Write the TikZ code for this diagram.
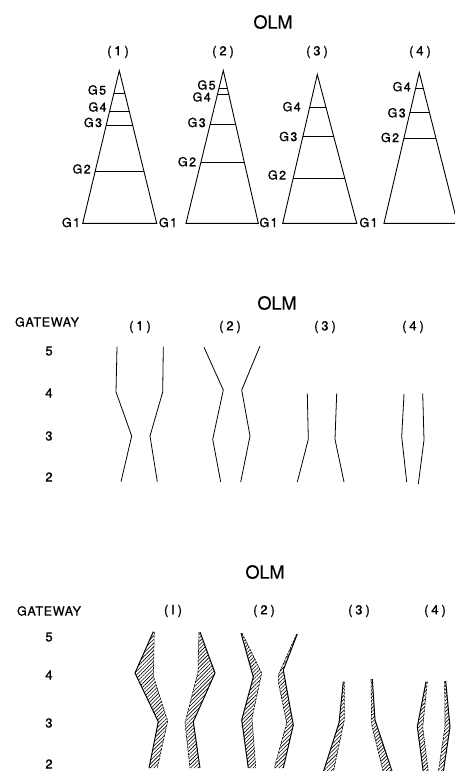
\documentclass[tikz,border=0pt]{standalone}
\usepackage{fontspec}
\setmainfont{TeX Gyre Heros}[FakeBold=0.8]
\newfontfamily\titlefont{TeX Gyre Heros}[FakeBold=0.4]
\newfontfamily\spaced{TeX Gyre Heros}[LetterSpace=22,FakeBold=0.9]
\newfontfamily\gspaced{TeX Gyre Heros}[LetterSpace=12,FakeBold=0.9]
\newfontfamily\wspaced{TeX Gyre Heros}[LetterSpace=6,FakeBold=0.9]
\usetikzlibrary{calc,patterns.meta}

% horizontal gateway levels inside a triangle: #1 prefix, #2 apex y, #3 list of level y
\newcommand\gatelevels[3]{%
  \foreach \h in {#3}{%
    \pgfmathsetmacro\lvl{(\h-#2)/(223.3-#2)}%
    \draw ($(#1a)!\lvl!(#1l)$) -- ($(#1a)!\lvl!(#1r)$);
  }}

\begin{document}
\begin{tikzpicture}[x=1pt,y=-1pt,line width=0.9pt,line join=miter,
  title/.style={font=\titlefont\fontsize{18}{18}\selectfont,inner sep=0},
  colhead/.style={font=\spaced\fontsize{13}{13}\selectfont,inner sep=0},
  glabel/.style={font=\gspaced\fontsize{12.5}{12.5}\selectfont,inner sep=0},
  gwlabel/.style={font=\wspaced\fontsize{12.5}{12.5}\selectfont,inner sep=0},
  gnum/.style={font=\fontsize{13}{13}\selectfont,inner sep=0},
  wall/.style={pattern={Lines[angle=45,distance=2.6pt,line width=0.6pt]}},
  solidedge/.style={line width=1pt},
  brokenedge/.style={line width=0.6pt,dash pattern=on 2.5pt off 1pt}]
\useasboundingbox (0,0) rectangle (455,771);
\clip (0,0) rectangle (455,771);

% ---------- gateway triangles ----------
\node[title] (olmA) at (273,22) {OLM};
\node[colhead] (hA1) at (118,52) {(1)};
\node[colhead] (hA2) at (223,52) {(2)};
\node[colhead] (hA3) at (317,52) {(3)};
\node[colhead] (hA4) at (420,52) {(4)};

\coordinate (t1a) at (119.3,70.7);
\coordinate (t1l) at (82.7,223.3);
\coordinate (t1r) at (156.7,223.3);
\coordinate (t2a) at (223.3,70.5);
\coordinate (t2l) at (186,223.3);
\coordinate (t2r) at (258.3,223.3);
\coordinate (t3a) at (317.3,74.5);
\coordinate (t3l) at (282.7,223.3);
\coordinate (t3r) at (356.7,223.3);
\coordinate (t4a) at (419.3,72.5);
\coordinate (t4l) at (384,223.3);
\coordinate (t4r) at (457.5,223.3);

\foreach \k in {1,2,3,4}{\draw (t\k l) -- (t\k a) -- (t\k r) -- cycle;}
\gatelevels{t1}{70.7}{93.3,111.7,125,171.7}
\gatelevels{t2}{70.5}{88.3,94.3,124.3,162.7}
\gatelevels{t3}{74.5}{107.7,136,178.3}
\gatelevels{t4}{72.5}{88.3,112.7,138}

\node[glabel] (g15) at (97,90) {G5};
\node[glabel] (g14) at (97.5,107) {G4};
\node[glabel] (g13) at (93,122.5) {G3};
\node[glabel] (g12) at (81.7,169) {G2};
\node[glabel] (g25) at (206.5,85) {G5};
\node[glabel] (g24) at (201.7,97) {G4};
\node[glabel] (g23) at (196.7,122.5) {G3};
\node[glabel] (g22) at (187,161.7) {G2};
\node[glabel] (g34) at (291.7,106.7) {G4};
\node[glabel] (g33) at (288.3,136.5) {G3};
\node[glabel] (g32) at (277,175) {G2};
\node[glabel] (g44) at (401.7,86.7) {G4};
\node[glabel] (g43) at (396.7,112.8) {G3};
\node[glabel] (g42) at (390,137.5) {G2};
\node[glabel] (g1a) at (71,222.5) {G1};
\node[glabel] (g1b) at (168,222.5) {G1};
\node[glabel] (g1c) at (268.5,222.5) {G1};
\node[glabel] (g1d) at (368.5,222.5) {G1};

% ---------- channel outlines ----------
\node[title] (olmB) at (277,303) {OLM};
\node[gwlabel] (gwB) at (47,322) {GATEWAY};
\node[colhead] (hB1) at (140,327) {(1)};
\node[colhead] (hB2) at (230,327) {(2)};
\node[colhead] (hB3) at (325,327) {(3)};
\node[colhead] (hB4) at (413,327) {(4)};
\node[gnum] (nB5) at (49,351) {5};
\node[gnum] (nB4) at (49,393) {4};
\node[gnum] (nB3) at (49,436) {3};
\node[gnum] (nB2) at (49,477) {2};

\begin{scope}[line width=0.8pt]
\draw (117,346.7) -- (116,392) -- (131.7,436) -- (121,481.7);
\draw (163.3,346.7) -- (162.7,392) -- (150,436) -- (157.3,481.7);
\draw (204,347.3) -- (223.3,390) -- (212.7,439.3) -- (220.7,482);
\draw (260,346) -- (241.7,390) -- (250,436) -- (240.7,482);
\draw (307.3,393.3) -- (308.3,439.3) -- (297.3,482);
\draw (336.7,393.3) -- (335,439.3) -- (344,482);
\draw (404,394) -- (401.7,436.7) -- (406.7,482);
\draw (422.7,393.3) -- (424,440) -- (418.3,484);
\end{scope}

% ---------- hatched channel walls ----------
\node[title] (olmC) at (265,572) {OLM};
\node[gwlabel] (gwC) at (49,611) {GATEWAY};
\node[colhead] (hC1) at (173,611) {(I)};
\node[colhead] (hC2) at (264,611) {(2)};
\node[colhead] (hC3) at (359,611) {(3)};
\node[colhead] (hC4) at (435,611) {(4)};
\node[gnum] (nC5) at (49,637) {5};
\node[gnum] (nC4) at (49,675) {4};
\node[gnum] (nC3) at (49,723) {3};
\node[gnum] (nC2) at (49,764) {2};

% column 1, left wall
\fill[wall] (153.3,631.7) -- (135,673) -- (158.3,721.7) -- (149,768)
  -- (157.3,768) -- (167.7,721) -- (153.3,676) -- (154.3,632) -- cycle;
\draw[solidedge] (153.3,631.7) -- (135,673) -- (158.3,721.7) -- (149,768);
\draw[brokenedge] (154.3,632) -- (153.3,676) -- (167.7,721) -- (157.3,768);
% column 1, right wall
\fill[wall] (200,632) -- (215,673) -- (193.3,721.7) -- (200,768)
  -- (190,768) -- (185,723) -- (198,672) -- (199,632) -- cycle;
\draw[solidedge] (200,632) -- (215,673) -- (193.3,721.7) -- (200,768);
\draw[brokenedge] (199,632) -- (198,672) -- (185,723) -- (190,768);
% column 2, left wall
\fill[wall] (241,633) -- (253.3,677) -- (241.7,720) -- (248.3,768)
  -- (255.7,768) -- (252,718) -- (261.7,673) -- (242,633) -- cycle;
\draw[solidedge] (241,633) -- (253.3,677) -- (241.7,720) -- (248.3,768);
\draw[brokenedge] (242,633) -- (261.7,673) -- (252,718) -- (255.7,768);
% column 2, right wall
\fill[wall] (297.3,634) -- (283.3,670) -- (293.3,725) -- (283.3,768)
  -- (274.3,768) -- (286.7,723) -- (278.3,682) -- (278.3,675) -- (296.7,634) -- cycle;
\draw[solidedge] (297.3,634) -- (283.3,670) -- (293.3,725) -- (283.3,768);
\draw[brokenedge] (296.7,634) -- (278.3,675) -- (278.3,682) -- (286.7,723) -- (274.3,768);
% column 3, left wall
\fill[wall] (343.3,681.7) -- (339,723) -- (323.3,772)
  -- (333.3,772) -- (344.3,720) -- (344.3,681.7) -- cycle;
\draw[solidedge] (343.3,681.7) -- (339,723) -- (323.3,772);
\draw[brokenedge] (344.3,681.7) -- (344.3,720) -- (333.3,772);
% column 3, right wall
\fill[wall] (372.3,679) -- (375,720) -- (392.3,772)
  -- (383.3,772) -- (371.7,725) -- (371,679) -- cycle;
\draw[solidedge] (372.3,679) -- (375,720) -- (392.3,772);
\draw[brokenedge] (371,679) -- (371.7,725) -- (383.3,772);
% column 4, left wall
\fill[wall] (426,681.7) -- (417.3,726.7) -- (423.3,772)
  -- (428.3,772) -- (422.7,727) -- (427.3,681.7) -- cycle;
\draw[solidedge] (426,681.7) -- (417.3,726.7) -- (423.3,772);
\draw[brokenedge] (427.3,681.7) -- (422.7,727) -- (428.3,772);
% column 4, right wall
\fill[wall] (445.7,681) -- (450,727) -- (443.3,772)
  -- (438.3,772) -- (445,727) -- (444.7,681) -- cycle;
\draw[solidedge] (445.7,681) -- (450,727) -- (443.3,772);
\draw[brokenedge] (444.7,681) -- (445,727) -- (438.3,772);
\end{tikzpicture}
\end{document}
